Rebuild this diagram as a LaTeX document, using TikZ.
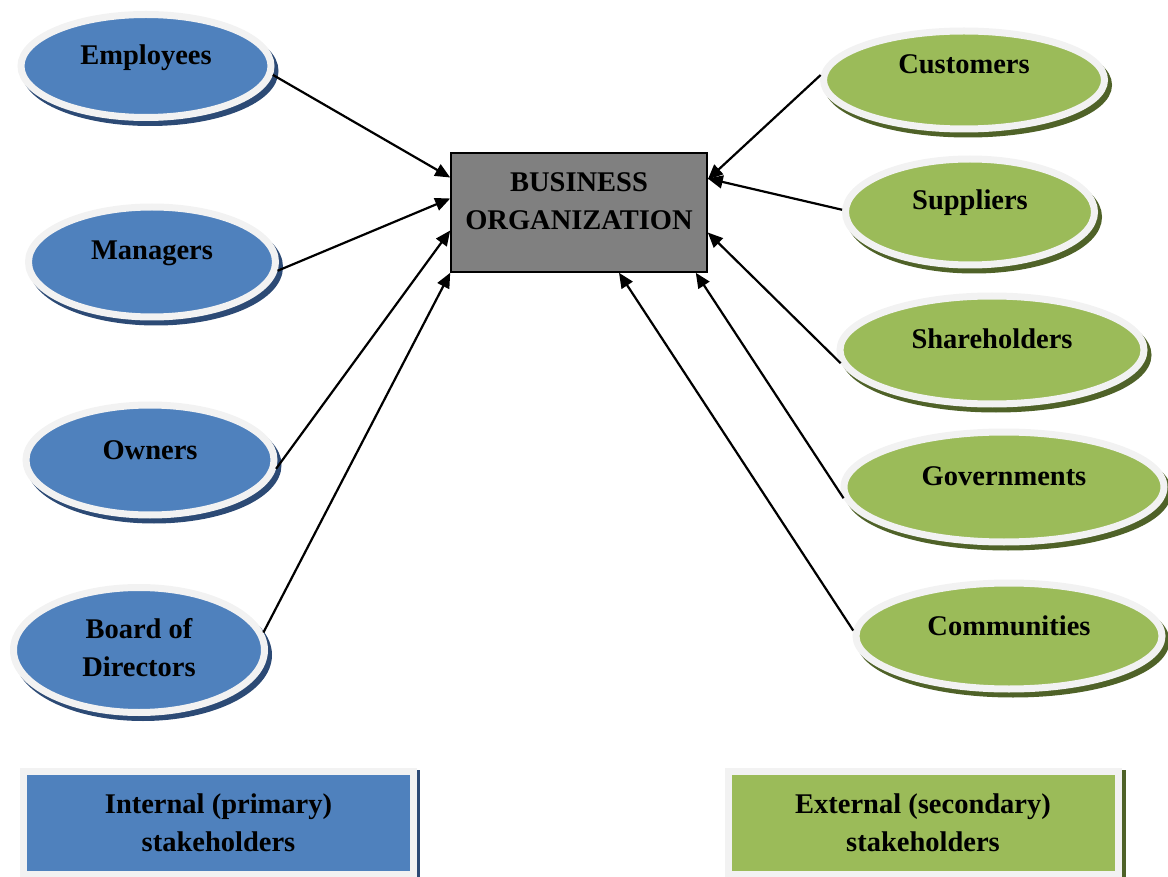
\documentclass[tikz,border=0pt]{standalone}
\usepackage{fontspec}
\setmainfont{Liberation Serif}
\usetikzlibrary{arrows.meta, shapes.geometric, calc}
\definecolor{intblue}{RGB}{79, 129, 189}
\definecolor{intshade}{RGB}{44, 74, 117}
\definecolor{extgreen}{RGB}{155, 187, 89}
\definecolor{extshade}{RGB}{79, 98, 40}
\definecolor{ringgray}{RGB}{242, 242, 242}
\definecolor{orggray}{RGB}{128, 128, 128}

\begin{document}
\begin{tikzpicture}[
    x=1pt, y=-1pt,
    stk/.style  = {ellipse, draw=ringgray, line width=7pt, inner sep=0pt,
                   minimum width=#1},
    intern/.style = {fill=intblue,
                   preaction={fill=intshade, draw=intshade, line width=7pt,
                              transform canvas={shift={(4pt,-5pt)}}}},
    extern/.style = {fill=extgreen,
                   preaction={fill=extshade, draw=extshade, line width=7pt,
                              transform canvas={shift={(4pt,-5pt)}}}},
    lbl/.style  = {font=\fontsize{28.5}{38}\selectfont\bfseries, align=center, inner sep=0pt},
    org/.style  = {rectangle, draw=black, line width=1.6pt, fill=orggray, inner sep=0pt,
                   minimum width=256pt, minimum height=119pt},
    key/.style  = {rectangle, draw=ringgray, line width=7pt, inner sep=0pt,
                   minimum width=390pt, minimum height=103pt},
    arr/.style  = {-{Triangle[length=15pt, width=13pt]}, line width=2.2pt, black},
  ]
    \useasboundingbox (0,0) rectangle (1168,877);

    % ── Business organization ──
    \node[org] (biz) at (579,212.5) {};
    \node[lbl] (bizt) at ([yshift=11]biz.center) {BUSINESS\\ORGANIZATION};

    % ── Internal stakeholders ──
    \node[stk=250pt, intern, minimum height=103pt] (emp) at (146,66)  {};
    \node[stk=247pt, intern, minimum height=110pt] (man) at (152,262) {};
    \node[stk=248pt, intern, minimum height=110pt] (own) at (150,460) {};
    \node[stk=251pt, intern, minimum height=125pt] (brd) at (139,650) {};
    \node[lbl] (empt) at ([yshift=8]emp.center)  {Employees};
    \node[lbl] (mant) at ([yshift=9]man.center)  {Managers};
    \node[lbl] (ownt) at ([yshift=10]own.center) {Owners};
    \node[lbl] (brdt) at ([yshift=2]brd.center)  {Board of\\Directors};

    % ── External stakeholders ──
    \node[stk=281pt, extern, minimum height=98pt]  (cus) at (964,80)   {};
    \node[stk=249pt, extern, minimum height=106pt] (sup) at (970,212)  {};
    \node[stk=304pt, extern, minimum height=108pt] (sha) at (992,350)  {};
    \node[stk=320pt, extern, minimum height=110pt] (gov) at (1004,487) {};
    \node[stk=306pt, extern, minimum height=106pt] (com) at (1009,636) {};
    \node[lbl] (cust) at ([yshift=16]cus.center) {Customers};
    \node[lbl] (supt) at ([yshift=9]sup.center)  {Suppliers};
    \node[lbl] (shat) at ([yshift=11]sha.center) {Shareholders};
    \node[lbl] (govt) at ([yshift=11]gov.center) {Governments};
    \node[lbl] (comt) at ([yshift=10]com.center) {Communities};

    % ── Legend ──
    \fill[intshade] (415,770) rectangle (420,877);
    \fill[extshade] (1121,770) rectangle (1126,877);
    \node[key, fill=intblue]  (kint) at (218.5,822.5) {};
    \node[key, fill=extgreen] (kext) at (923,822.5)   {};
    \node[lbl] (kintt) at (kint.center) {Internal (primary)\\stakeholders};
    \node[lbl] (kextt) at (kext.center) {External (secondary)\\stakeholders};

    % ── Arrows ──
    \draw[arr] (emp.-4)   -- ([yshift=35]biz.west);
    \draw[arr] (man.-4)   -- ([yshift=14]biz.west);
    \draw[arr] (own.-4)   -- ([yshift=-18]biz.west);
    \draw[arr] (brd.8)    -- (biz.south west);
    \draw[arr] (cus.178)  -- ([yshift=33]biz.east);
    \draw[arr] (sup.179)  -- ([yshift=34]biz.east);
    \draw[arr] (sha.185)  -- ([yshift=-20]biz.east);
    \draw[arr] (gov.184)  -- ([xshift=-12]biz.south east);
    \draw[arr] (com.178)  -- ([xshift=40]biz.south);
\end{tikzpicture}
\end{document}
